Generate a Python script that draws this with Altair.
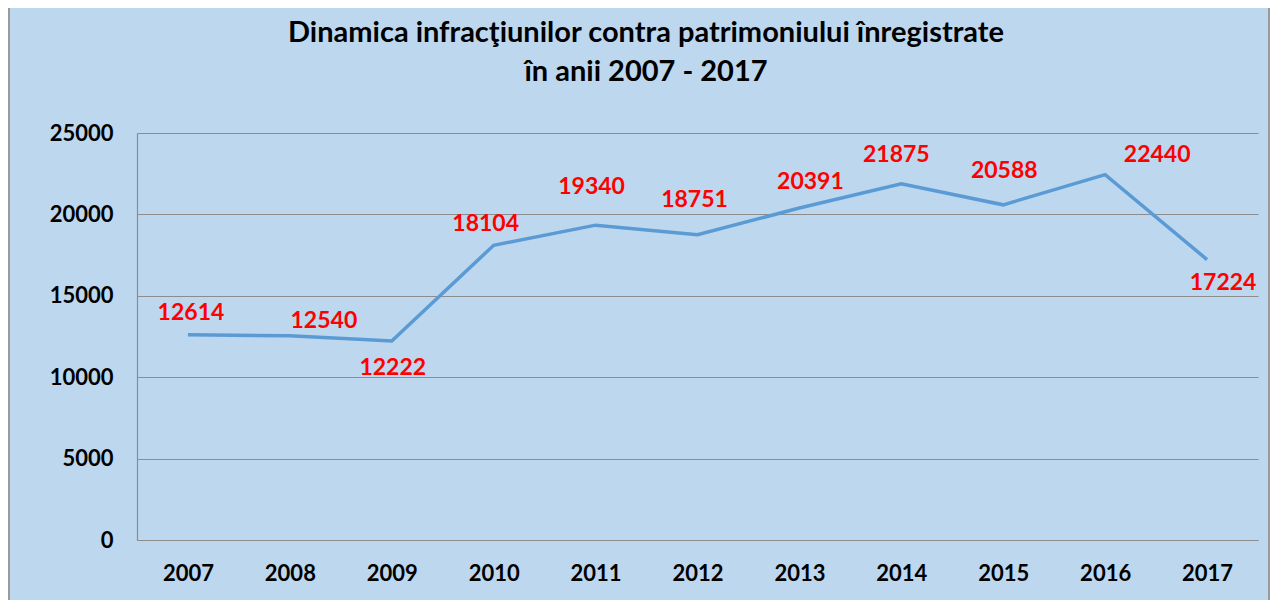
import altair as alt
import pandas as pd

years = ["2007", "2008", "2009", "2010", "2011", "2012", "2013", "2014", "2015", "2016", "2017"]
values = [12614, 12540, 12222, 18104, 19340, 18751, 20391, 21875, 20588, 22440, 17224]
title_lines = ["Dinamica infracţiunilor contra patrimoniului înregistrate", "în anii 2007 - 2017"]

# label placement offsets (dx, dy) in pixels, per year
label_dx = [3, 34, 1, -8, -4, -3, 11, -5, 1, 52, 16]
label_dy = [-22, -15, 27, -21, -38, -35, -26, -29, -34, -20, 23]

df = pd.DataFrame({"year": years, "value": values})

FONT = "Lato"
W, H = 1121, 407

x_enc = alt.X("year:O", title=None,
              axis=alt.Axis(labelAngle=0, labelFontSize=22, labelFontWeight="bold",
                            labelColor="#000000", labelFont=FONT, labelPadding=23,
                            ticks=False, domain=True, domainColor="#8c8c8c",
                            domainWidth=1.2, grid=False))
y_enc = alt.Y("value:Q", title=None,
              scale=alt.Scale(domain=[0, 25000], nice=False, zero=True),
              axis=alt.Axis(values=[0, 5000, 10000, 15000, 20000, 25000], format="d",
                            labelFontSize=22, labelFontWeight="bold", labelColor="#000000",
                            labelFont=FONT, labelPadding=24, ticks=False,
                            domain=True, domainColor="#8c8c8c", domainWidth=1.2,
                            grid=True, gridColor="#8c8c8c", gridWidth=1.2))

base = alt.Chart(df)

line = base.mark_line(color="#5B9BD5", strokeWidth=3.5).encode(x=x_enc, y=y_enc)

layers = [line]
for i, yr in enumerate(years):
    layers.append(
        base.transform_filter(alt.datum.year == yr)
        .mark_text(color="#FF0000", fontSize=23, fontWeight="bold", font=FONT,
                   dx=label_dx[i], dy=label_dy[i], align="center", baseline="middle")
        .encode(x=alt.X("year:O"), y=alt.Y("value:Q"), text=alt.Text("value:Q", format="d"))
    )

title_df = pd.DataFrame({"t": title_lines, "line": [0, 1]})
for i in range(2):
    layers.append(
        alt.Chart(title_df).transform_filter(alt.datum.line == i)
        .mark_text(fontSize=29, fontWeight="bold", font=FONT, color="#000000",
                   align="center", baseline="middle", clip=False)
        .encode(text="t:N", x=alt.value(509), y=alt.value(-100 + 39 * i))
    )

frame = alt.Chart(pd.DataFrame({"a": [0]})).mark_rect(
    fill=None, stroke="#9a9a9a", strokeWidth=2, clip=False
).encode(x=alt.value(-128), x2=alt.value(W + 11), y=alt.value(-126), y2=alt.value(H + 80))
layers.append(frame)

chart = alt.layer(*layers).properties(
    width=W, height=H,
    autosize=alt.AutoSizeParams(type="none"),
    padding={"left": 129, "top": 125, "right": 12, "bottom": 60},
    background="#BDD7EE",
).configure_view(stroke=None)

chart.save("out.html", embed_options={"renderer": "svg", "actions": False})
